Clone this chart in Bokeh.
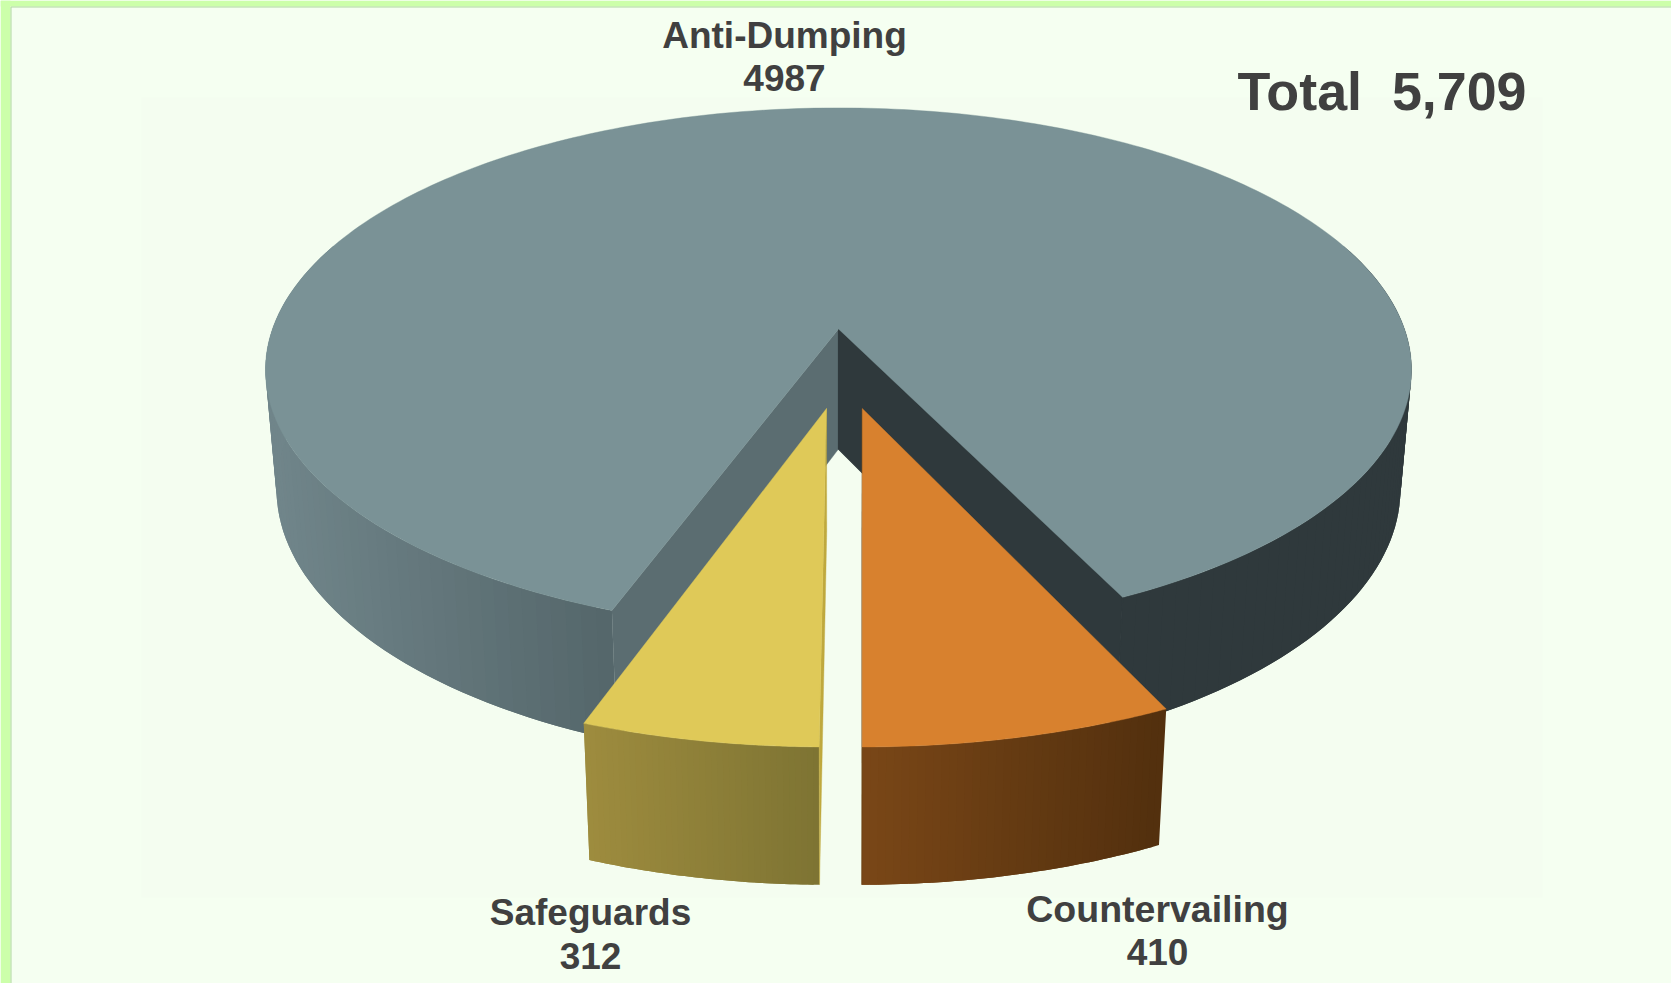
import numpy as np
from bokeh.plotting import figure
from bokeh.embed import file_html
from bokeh.resources import INLINE
from bokeh.core.properties import value

# ---- chart data
categories = ["Anti-Dumping", "Countervailing", "Safeguards"]
values = [4987, 410, 312]
total_label = "Total\u00a0\u00a05,709"

W, H = 1671, 983
TEXT = "#404040"
FONT = value("Liberation Sans")

total = sum(values)
sweep = {c: v / total * 360.0 for c, v in zip(categories, values)}

ROT_BIG = 0.3
ROT_YEL = 0.6
a_or_end = 180.0
a_or_start = a_or_end - sweep["Countervailing"]
a_ye_start = 180.0 + ROT_YEL
a_ye_end = a_ye_start + sweep["Safeguards"]
a_big_start = a_ye_end - ROT_YEL + ROT_BIG
a_big_end = a_big_start + sweep["Anti-Dumping"]

# projection of a tilted disc onto the page (per-slice camera fit)
GEO_BIG = dict(cx=838.0, cy=328.5, A=566.0, B=255.6, t=0.156)
GEO_OR = dict(cx=861.8, cy=408.0, A=621.0, B=297.5, t=0.121)
GEO_YE = dict(cx=826.0, cy=408.0, A=621.0, B=297.5, t=0.121)


def rim(g, deg):
    th = np.radians(deg)
    u, v = np.sin(th), np.cos(th)
    w = 1 + g["t"] * v
    return g["cx"] + g["A"] * u / w, g["cy"] - g["B"] * v / w


def drop(x, y, d0=120.0):
    """Top-face point -> the point under it on the disc's lower face."""
    x, y = np.asarray(x, float), np.asarray(y, float)
    d = d0 + 0.0425 * (y - 328.0)
    return 838 + (x - 838) * (1 - d / 6200.0), y + d


def hexmix(c1, c2, f):
    a = [int(c1[i:i + 2], 16) for i in (1, 3, 5)]
    b = [int(c2[i:i + 2], 16) for i in (1, 3, 5)]
    return "#%02x%02x%02x" % tuple(int(round(p + (q - p) * f)) for p, q in zip(a, b))


p = figure(width=W, height=H, x_range=(0, W), y_range=(H, 0), output_backend="svg",
           toolbar_location=None, min_border=0,
           background_fill_color="#f5fff1", border_fill_color="#f5fff1", outline_line_color=None)
p.axis.visible = False
p.grid.visible = False

# page frame
p.quad(left=[141], right=[1542], top=[97], bottom=[897], fill_color="#f4fdf0", line_color=None)
p.quad(left=[0, 0], right=[W, 10], top=[0, 0], bottom=[6, H], fill_color="#ccffaa", line_color=None)
p.line([10.5, 10.5, W], [H, 6.5, 6.5], line_color="#b0d8a0", line_width=1)


def wall(g, a0, a1, c_left, c_right, xl, xr, n=60, d0=120.0):
    """Side wall as overlapping quads painted in order, shaded left-to-right."""
    angs = np.linspace(a0, a1, n + 1)
    xs, ys, cols = [], [], []
    for i in range(n):
        mid = angs[i:min(i + 2, n) + 1]
        x0, y0 = rim(g, mid)
        bx0, by0 = drop(x0, y0, d0)
        xs.append(np.r_[x0, bx0[::-1]])
        ys.append(np.r_[y0, by0[::-1]])
        f = float(np.clip((x0[0] - xl) / (xr - xl), 0, 1))
        cols.append(hexmix(c_left, c_right, f))
    p.patches(xs, ys, fill_color=cols, line_color=None)


def face(g, deg, color, d0=120.0, lw=0.4):
    x, y = rim(g, deg)
    bx, by = drop(x, y, d0)
    ax, ay = drop(g["cx"], g["cy"])
    p.patch([g["cx"], x, bx, ax], [g["cy"], y, by, ay], fill_color=color, line_color=color, line_width=lw)


def top(g, a0, a1, color, n=300):
    angs = np.linspace(a0, a1, n + 1)
    x, y = rim(g, angs)
    p.patch(np.r_[g["cx"], x], np.r_[g["cy"], y], fill_color=color, line_color=color, line_width=0.4)


# large slice
D_BIG = 118.0
wall(GEO_BIG, a_big_start, 270 + 20, "#70858a", "#55676b", 275, 610, d0=D_BIG)
wall(GEO_BIG, 70, a_big_end - 360, "#2f393c", "#2f393c", 0, 1, d0=D_BIG)
face(GEO_BIG, a_big_start, "#5b6d71", d0=D_BIG)
face(GEO_BIG, a_big_end - 360, "#2f393c", d0=D_BIG, lw=1.2)
top(GEO_BIG, a_big_start, a_big_end, "#7a9296")

# safeguards slice
wall(GEO_YE, a_ye_start, a_ye_end, "#9e8c3e", "#7e7433", 585, 820, n=40)
face(GEO_YE, a_ye_start, "#bfa93e")
top(GEO_YE, a_ye_start, a_ye_end, "#dfc958", n=80)

# countervailing slice
wall(GEO_OR, a_or_start, a_or_end, "#53300e", "#7a4717", 1160, 862, n=40)
face(GEO_OR, a_or_end, "#6b4517")
top(GEO_OR, a_or_start, a_or_end, "#d8812e", n=80)

# labels
lab = {"Anti-Dumping": (784, 35, 77, "37px"),
       "Safeguards": (590, 912, 955, "37px"),
       "Countervailing": (1157, 908, 951, "37.5px")}
for c, v in zip(categories, values):
    x, y1, y2, fs = lab[c]
    p.text([x], [y1], text=[c], text_font=FONT, text_font_size=fs, text_font_style="bold",
           text_color=TEXT, text_align="center", text_baseline="alphabetic")
    p.text([x], [y2], text=[str(v)], text_font=FONT, text_font_size="37px", text_font_style="bold",
           text_color=TEXT, text_align="center", text_baseline="alphabetic")
p.text([1237], [90], text=[total_label], text_font=FONT, text_font_size="53.8px", text_font_style="bold",
       text_color=TEXT, text_align="left", text_baseline="alphabetic")

open("out.html", "w").write(file_html(p, INLINE))
